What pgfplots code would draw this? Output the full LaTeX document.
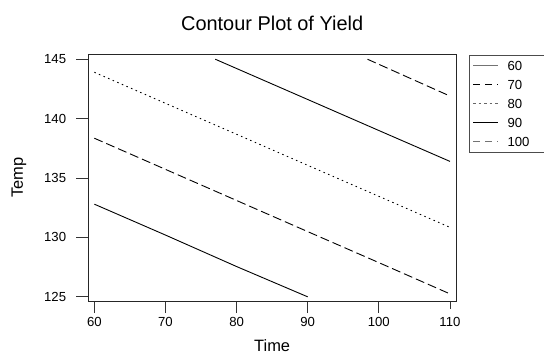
\documentclass[border=0pt]{standalone}
\usepackage{fontspec}
\setmainfont{Liberation Sans}
\usepackage{pgfplots}
\pgfplotsset{compat=1.18}
\begin{document}
\begin{tikzpicture}
\useasboundingbox (0,0) rectangle (544bp,354bp);
\begin{axis}[
  at={(88.3bp,53bp)}, anchor=south west,
  scale only axis, width=367.7bp, height=246.3bp,
  xmin=59.15, xmax=110.85, ymin=124.65, ymax=145.38,
  xtick={60,70,...,110}, ytick={125,130,...,145},
  xtick pos=lower, ytick pos=left,
  tick align=outside, major tick length=12bp,
  xtick style={black!80, line width=0.8bp, shorten <=4bp},
  ytick style={black!80, line width=0.8bp},
  axis line style={black!85, line width=0.9bp},
  /pgf/number format/assume math mode=true,
  tick label style={font=\fontsize{13.2}{13.2}\selectfont},
  xticklabel style={anchor=north, inner sep=0pt, yshift=-4bp},
  yticklabel style={anchor=east, inner sep=0pt, xshift=-10bp},
  label style={font=\fontsize{16.5}{16.5}\selectfont},
  xlabel={Time}, ylabel={Temp},
  xlabel style={at={(axis description cs:0.5,0)}, anchor=base, yshift=-50.7bp},
  ylabel style={at={(axis description cs:-0.1776,0.5)}, anchor=base},
  title={Contour Plot of Yield},
  title style={at={(axis description cs:0.5,1)}, anchor=base, yshift=18bp, font=\fontsize{20}{20}\selectfont},
  legend style={at={(axis description cs:1,1)}, anchor=north west, xshift=13bp,
    draw=black!70, line width=0.8bp, fill=none,
    font=\fontsize{13.2}{13.2}\selectfont,
    inner xsep=3bp, inner ysep=6bp, row sep=9.7bp, column sep=8.7bp,
    nodes={inner sep=0pt, text height=9.3bp, text depth=0pt}},
  legend cell align=left,
  legend image code/.code={\draw[#1] (0bp,0bp) -- (25bp,0bp);},
]
\addplot[forget plot, black, line width=0.9bp] coordinates {(60,132.8) (70,130.2) (80,127.55) (90,125)};
\addplot[forget plot, black, line width=0.9bp, dash pattern=on 9bp off 4bp] coordinates {(60,138.35) (70,135.73) (80,133.11) (90,130.49) (100,127.88) (110,125.25)};
\addplot[forget plot, black, line width=0.9bp, dash pattern=on 1.5bp off 3.5bp] coordinates {(60,143.9) (70,141.29) (80,138.68) (90,136.07) (100,133.46) (110,130.85)};
\addplot[forget plot, black, line width=0.9bp] coordinates {(77,145) (90,141.61) (100,139.0) (110,136.4)};
\addplot[forget plot, black, line width=0.9bp, dash pattern=on 9bp off 4bp] coordinates {(98.4,145) (104,143.5) (110,141.9)};
\addlegendimage{black!55, line width=1.5bp}
\addlegendentry{\makebox[34bp][l]{60}}
\addlegendimage{black, line width=1.3bp, dash pattern=on 7bp off 5bp}
\addlegendentry{\makebox[34bp][l]{70}}
\addlegendimage{black!60, line width=1.3bp, dash pattern=on 2.5bp off 3bp}
\addlegendentry{\makebox[34bp][l]{80}}
\addlegendimage{black, line width=1.3bp}
\addlegendentry{\makebox[34bp][l]{90}}
\addlegendimage{black!55, line width=1.5bp, dash pattern=on 7bp off 5bp}
\addlegendentry{\makebox[34bp][l]{100}}
\end{axis}
\end{tikzpicture}
\end{document}
